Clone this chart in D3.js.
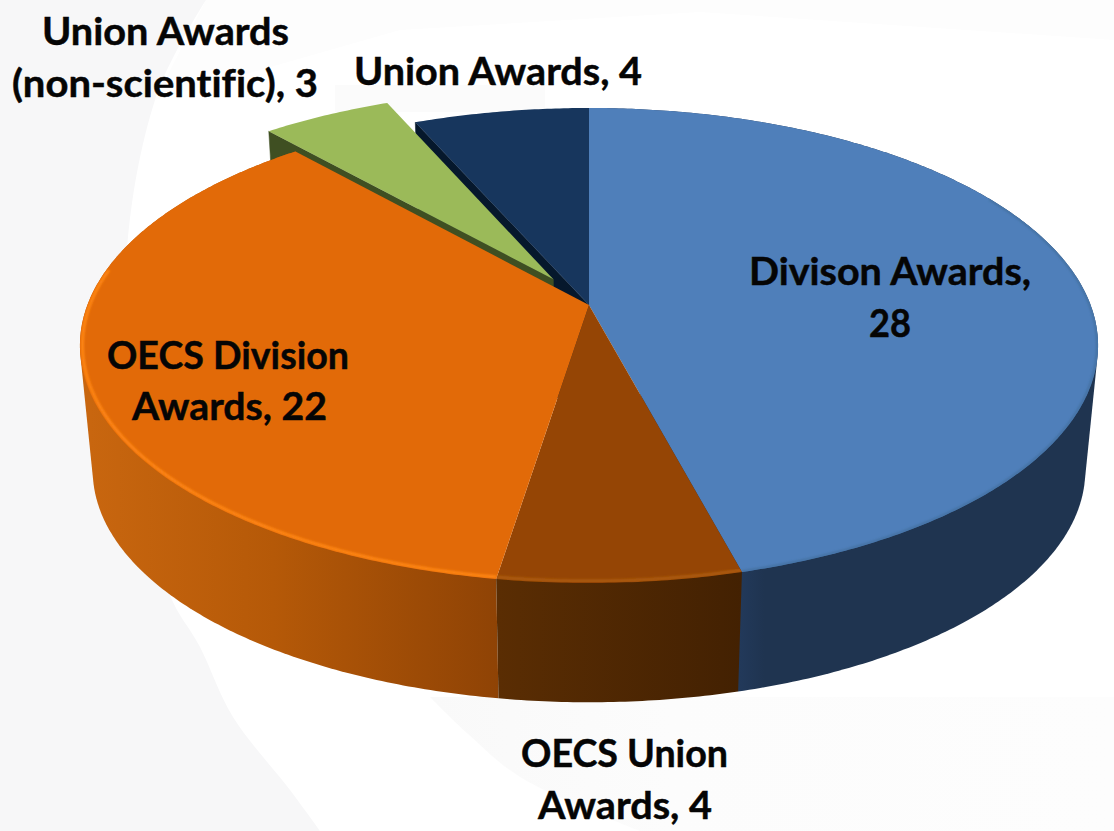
<!DOCTYPE html>
<html>
<head>
<meta charset="utf-8">
<script src="https://cdnjs.cloudflare.com/ajax/libs/d3/7.8.5/d3.min.js"></script>
<style>
html,body{margin:0;padding:0;background:#fff;}
svg{display:block;}
text{font-family:Lato,"Open Sans",sans-serif;font-weight:700;fill:#050505;stroke:#050505;stroke-width:.45px;font-variant-ligatures:none;}
</style>
</head>
<body>
<svg id="c" width="1114" height="831"></svg>
<script>
// ---- data ----
const categories = ["Divison Awards","OECS Union Awards","OECS Division Awards","Union Awards (non-scientific)","Union Awards"];
const values = [28,4,22,3,4];
const topColors = ["#4f7fba","#954505","#e26a08","#9bba59","#17365d"];
const explode = [0,0,0,0.135,0];
const labelLines = [
  ["Divison Awards,","28"],
  ["OECS Union","Awards, 4"],
  ["OECS Division","Awards, 22"],
  ["Union Awards","(non-scientific), 3"],
  ["Union Awards, 4"]
];

// ---- layout ----
const W=1114,H=831;
const P=0.1705, CX=589;
const topPlane={R:501.6,K:230.6,cy:305};
const botPlane={R:489,K:225,cy:431};
const labelLayout=[
 [[890,285,282],[890,337,42]],
 [[624.5,767,207],[625,819,174]],
 [[228,369,242],[229.5,420,195]],
 [[165.5,45,247],[165,97,306]],
 [[498,85,288]]
];
const wallStops=[
 [["0","#22395a"],["0.07","#1f3450"],["1","#1f3450"]],
 [["0","#5a2d03"],["1","#432102"]],
 [["0","#c8660f"],["0.45","#b55908"],["1","#8f4305"]],
 [["0","#3f4f22"],["1","#3f4f22"]],
 [["0","#06182c"],["1","#06182c"]]
];
const wallRange=[[740,1090],[498,742],[90,498],[270,556],[415,589]];
const rimColors=["#43709f","#ad5c10","#ff8614",null,null];
const rimSpan=[[1.05,Math.PI],[0,9],[0,1.55*Math.PI],[0,0],[0,0]];
const bgLeftEdge=[[206,0],[155,100],[125,300],[167,587],[200,647],[233,717],[290,790],[320,831]];
const bgBottom=[[430,697],[467,733],[520,777],[640,831]];
const bgTop=[[206,0],[1114,0],[1114,40],[700,12],[400,30],[155,100]];
const bgBack=[[335,85],[545,85],[545,112],[335,112]];

const svg=d3.select("#c");
const defs=svg.append("defs");
defs.append("filter").attr("id","soft").attr("x","-5%").attr("y","-5%").attr("width","110%").attr("height","110%")
  .append("feGaussianBlur").attr("stdDeviation",1.1);

// faint backdrop
const line=d3.line();
const smooth=d3.line().curve(d3.curveCatmullRom);
const bg=svg.append("g");
bg.append("rect").attr("width",W).attr("height",H).attr("fill","#fff");
bg.append("path").attr("d",line(bgTop)+"Z").attr("fill","#fdfdfd");
bg.append("path").attr("d",line(bgBack)+"Z").attr("fill","#fbfbfb");
bg.append("path").attr("d",smooth(bgLeftEdge)+"L0,"+H+"L0,0Z").attr("fill","#f7f7f8");
const bgFade=defs.append("linearGradient").attr("id","bgFade").attr("gradientUnits","userSpaceOnUse")
  .attr("x1",430).attr("x2",1114).attr("y1",0).attr("y2",0);
bgFade.append("stop").attr("offset",0).attr("stop-color","#f9f9f9");
bgFade.append("stop").attr("offset",0.35).attr("stop-color","#fcfcfc");
bgFade.append("stop").attr("offset",1).attr("stop-color","#fdfdfd");
bg.append("path").attr("d",smooth(bgBottom)+`L${W},${H}L${W},697Z`).attr("fill","url(#bgFade)");

// ---- projection ----
const uX=pl=>d3.scaleLinear().domain([-1,1]).range([CX-pl.R,CX+pl.R]);
function project(u,v,pl){
  const s=1/(1-P*v);
  const x=uX(pl);
  return [CX+(x(u)-CX)*s, pl.cy+pl.K*v*s];
}
const pie=d3.pie().sort(null).value(d=>d)(values);
const arcAngles=(a0,a1)=>{
  const n=Math.max(2,Math.ceil((a1-a0)/0.01));
  return d3.range(n+1).map(i=>a0+(a1-a0)*i/n);
};
function rim(d,i,pl){
  const m=(d.startAngle+d.endAngle)/2,e=explode[i];
  const ox=e*Math.sin(m),oy=-e*Math.cos(m);
  return arcAngles(d.startAngle,d.endAngle).map(a=>project(Math.sin(a)+ox,-Math.cos(a)+oy,pl));
}
function apex(d,i,pl){
  const m=(d.startAngle+d.endAngle)/2,e=explode[i];
  return project(e*Math.sin(m),-e*Math.cos(m),pl);
}

// gradients
pie.forEach((d,i)=>{
  const g=defs.append("linearGradient").attr("id","wall"+i).attr("gradientUnits","userSpaceOnUse")
    .attr("x1",wallRange[i][0]).attr("x2",wallRange[i][1]).attr("y1",0).attr("y2",0);
  wallStops[i].forEach(s=>g.append("stop").attr("offset",s[0]).attr("stop-color",s[1]));
});

const shape=(d,i)=>line([apex(d,i,topPlane),...rim(d,i,topPlane)])+"Z";

// cut faces of the back slices, then outer walls, then the top faces
const walls=svg.append("g");
[4,3].forEach(i=>{
  const d=pie[i];
  const t=rim(d,i,topPlane)[0], b=rim(d,i,botPlane)[0];
  walls.append("path").attr("d",line([apex(d,i,topPlane),t,b,apex(d,i,botPlane)])+"Z")
    .attr("fill",`url(#wall${i})`).attr("stroke",`url(#wall${i})`).attr("stroke-width",0.5);
});
[0,2,1].forEach(i=>{
  const d=pie[i];
  const hull=d3.polygonHull([...rim(d,i,topPlane),...rim(d,i,botPlane)]);
  walls.append("path").attr("d",line(hull)+"Z").attr("fill",`url(#wall${i})`);
});

const tops=svg.append("g");
[4,3,0,1,2].forEach(i=>{
  tops.append("path").attr("d",shape(pie[i],i)).attr("fill",topColors[i]);
});

// soft bevel on the rim
pie.forEach((d,i)=>{
  defs.append("clipPath").attr("id","clip"+i).append("path").attr("d",shape(d,i));
  if(!rimColors[i])return;
  const inset=i===0?{R:topPlane.R-1,K:topPlane.K-0.6,cy:topPlane.cy}:{R:topPlane.R-2.5,K:topPlane.K-1.6,cy:topPlane.cy};
  const a0=Math.max(d.startAngle,rimSpan[i][0]),a1=Math.min(d.endAngle,rimSpan[i][1]);
  const pts=arcAngles(a0,a1).map(a=>project(Math.sin(a),-Math.cos(a),inset));
  svg.append("g").attr("clip-path",`url(#clip${i})`)
    .append("path").attr("d",line(pts)).attr("fill","none").attr("stroke",rimColors[i])
    .attr("stroke-width",i===0?2:3).attr("filter","url(#soft)");
});

// labels
const lg=svg.append("g");
labelLines.forEach((lines,i)=>{
  lines.forEach((t,j)=>{
    const [x,y,w]=labelLayout[i][j];
    lg.append("text").attr("x",x).attr("y",y).attr("text-anchor","middle")
      .attr("font-size",38).attr("textLength",w).attr("lengthAdjust","spacingAndGlyphs").text(t);
  });
});
</script>
</body>
</html>
